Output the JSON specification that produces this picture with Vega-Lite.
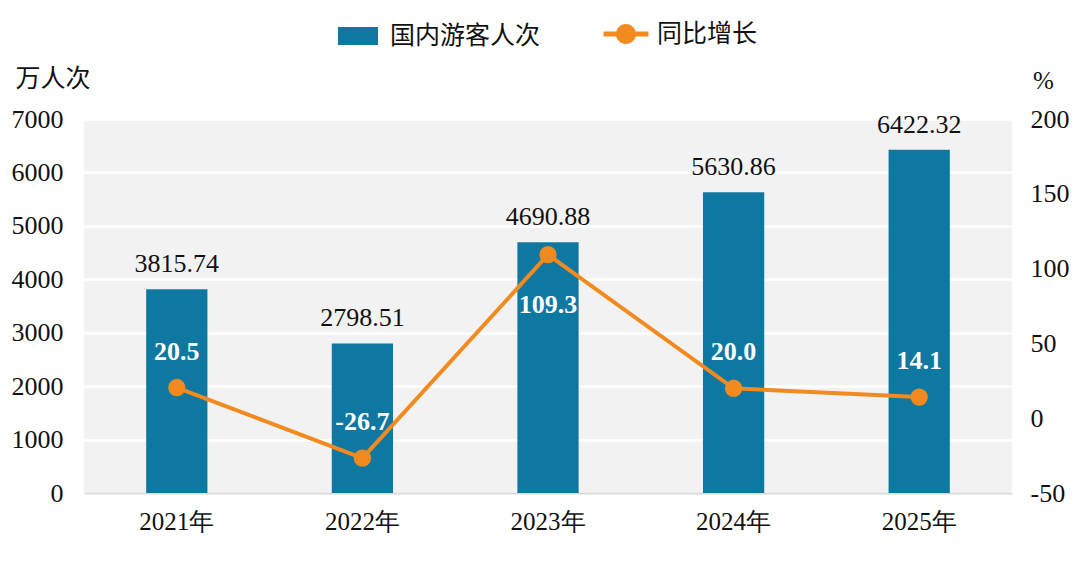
{
  "$schema": "https://vega.github.io/schema/vega-lite/v6.json",
  "width": 928,
  "height": 374,
  "autosize": {"type": "none"},
  "padding": {"left": 84, "top": 119, "right": 68, "bottom": 73},
  "background": "white",
  "config": {
    "view": {"fill": "#f2f2f2", "stroke": null},
    "font": "Liberation Serif"
  },
  "data": {
    "values": [
      {"year": "2021年", "visitors": 3815.74, "growth": 20.5},
      {"year": "2022年", "visitors": 2798.51, "growth": -26.7},
      {"year": "2023年", "visitors": 4690.88, "growth": 109.3},
      {"year": "2024年", "visitors": 5630.86, "growth": 20.0},
      {"year": "2025年", "visitors": 6422.32, "growth": 14.1}
    ]
  },
  "encoding": {
    "x": {
      "field": "year",
      "type": "nominal",
      "sort": null,
      "scale": {"paddingInner": 0.67, "paddingOuter": 0.335},
      "axis": {
        "title": null,
        "labelAngle": 0,
        "labelFont": "Liberation Serif",
        "labelFontSize": 25,
        "labelColor": "#111111",
        "labelPadding": 16,
        "ticks": false,
        "tickSize": 0,
        "domainColor": "#d9d9d9",
        "domainWidth": 2,
        "grid": false
      }
    }
  },
  "layer": [
    {
      "encoding": {
        "y": {
          "field": "visitors",
          "type": "quantitative",
          "scale": {"domain": [0, 7000], "nice": false},
          "axis": {
            "values": [0, 1000, 2000, 3000, 4000, 5000, 6000, 7000],
            "labelExpr": "'' + datum.value",
            "title": "万人次",
            "titleAngle": 0,
            "titleAlign": "left",
            "titleBaseline": "middle",
            "titleX": -69,
            "titleY": -41,
            "titleFont": "Noto Sans CJK SC",
            "titleFontSize": 25,
            "titleFontWeight": "normal",
            "titleColor": "#111111",
            "labelFont": "Liberation Serif",
            "labelFontSize": 26,
            "labelColor": "#111111",
            "labelPadding": 21,
            "ticks": false,
            "tickSize": 0,
            "domain": false,
            "grid": true,
            "gridColor": "#ffffff",
            "gridWidth": 2.5
          }
        }
      },
      "layer": [
        {
          "mark": {"type": "bar"},
          "encoding": {
            "color": {
              "datum": "国内游客人次",
              "scale": {"range": ["#0e78a0"]},
              "legend": {
                "orient": "none",
                "legendX": 261.5,
                "legendY": -95.5,
                "title": null,
                "padding": 0,
                "symbolType": "M-1.6,-0.72H1.6V0.72H-1.6Z",
                "symbolSize": 625,
                "symbolStrokeWidth": 0,
                "labelFont": "Noto Sans CJK SC",
                "labelFontSize": 25,
                "labelColor": "#111111",
                "labelOffset": 19.5
              }
            }
          }
        },
        {
          "mark": {"type": "text", "baseline": "alphabetic", "dy": -17, "fontSize": 26, "font": "Liberation Serif", "color": "#111111"},
          "encoding": {"text": {"field": "visitors", "type": "quantitative", "format": ".2f"}}
        }
      ]
    },
    {
      "encoding": {
        "y": {
          "field": "growth",
          "type": "quantitative",
          "scale": {"domain": [-50, 200], "nice": false},
          "axis": {
            "orient": "right",
            "values": [-50, 0, 50, 100, 150, 200],
            "labelExpr": "'' + datum.value",
            "title": "%",
            "titleAngle": 0,
            "titleAlign": "center",
            "titleBaseline": "middle",
            "titleX": 31,
            "titleY": -39,
            "titleFont": "Liberation Serif",
            "titleFontSize": 25,
            "titleFontWeight": "normal",
            "titleColor": "#111111",
            "labelFont": "Liberation Serif",
            "labelFontSize": 26,
            "labelColor": "#111111",
            "labelPadding": 18,
            "ticks": false,
            "tickSize": 0,
            "domain": false,
            "grid": false
          }
        }
      },
      "layer": [
        {
          "mark": {"type": "line", "strokeWidth": 4},
          "encoding": {
            "stroke": {
              "datum": "同比增长",
              "scale": {"range": ["#f28a20"]},
              "legend": {
                "orient": "none",
                "legendX": 527,
                "legendY": -100,
                "title": null,
                "padding": 0,
                "symbolType": "M-1.5,-0.17H-0.6V0.17H-1.5Z M0.6,-0.17H1.5V0.17H0.6Z M0.67,0A0.67,0.67,0,1,1,-0.67,0A0.67,0.67,0,1,1,0.67,0Z",
                "symbolSize": 900,
                "symbolStrokeWidth": 0,
                "symbolFillColor": "#f28a20",
                "labelFont": "Noto Sans CJK SC",
                "labelFontSize": 25,
                "labelColor": "#111111",
                "labelOffset": 16,
                "encode": {
                  "symbols": {"update": {"fill": {"value": "#f28a20"}, "strokeWidth": {"value": 0}}}
                }
              }
            }
          }
        },
        {
          "mark": {"type": "point", "filled": true, "size": 300, "color": "#f28a20", "opacity": 1},
          "encoding": {}
        },
        {
          "transform": [{"filter": "datum.year != '2023年'"}],
          "mark": {"type": "text", "baseline": "alphabetic", "dy": -28, "fontSize": 26, "font": "Liberation Serif", "fontWeight": "bold", "color": "#ffffff", "text": {"expr": "replace(format(datum.growth, '.1f'), '−', '-')"}},
          "encoding": {}
        },
        {
          "transform": [{"filter": "datum.year == '2023年'"}],
          "mark": {"type": "text", "baseline": "alphabetic", "dy": 58, "fontSize": 26, "font": "Liberation Serif", "fontWeight": "bold", "color": "#ffffff", "text": {"expr": "format(datum.growth, '.1f')"}},
          "encoding": {}
        }
      ]
    }
  ],
  "resolve": {"scale": {"y": "independent"}}
}
